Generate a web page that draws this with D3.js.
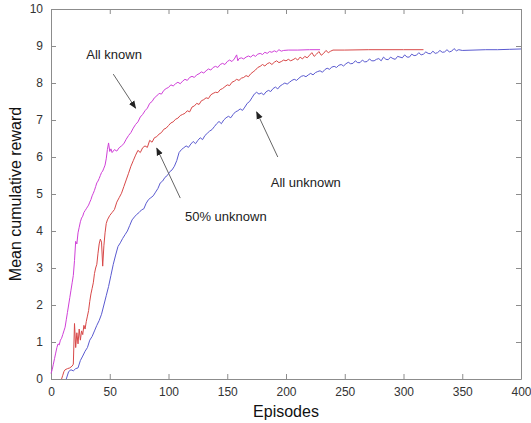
<!DOCTYPE html>
<html><head><meta charset="utf-8">
<script src="https://cdn.jsdelivr.net/npm/d3@7"></script>
<style>body{margin:0;background:#fff}svg{display:block}text{font-family:"Liberation Sans",Arial,sans-serif}</style>
</head><body><svg id="c" width="531" height="423"></svg>
<script>
// ---- data ----
const xTicks = [0,50,100,150,200,250,300,350,400];
const yTicks = [0,1,2,3,4,5,6,7,8,9,10];
const xLabel = "Episodes";
const yLabel = "Mean cumulative reward";

const knownX = [0,1,2,3,4,5,6,7,8,9,10,11,12,13,14,15,16,17,18,19,20,21,22,23,24,25,26,27,28,29,30,31,32,33,34,35,36,37,38,39,40,41,42,43,44,45,46,47,48,49,50,51,52,54,56,58,60,62,64,66,68,70,72,74,76,78,80,82,84,86,88,90,92,94,96,98,100,102,104,106,108,110,112,114,116,118,120,122,124,126,128,130,132,134,136,138,140,142,144,146,148,150,152,154,156,158,159,160,162,164,166,168,170,172,174,176,178,180,182,184,186,188,190,192,194,196,198,202,210,220,229];
const knownY = [0.15,0.25,0.4,0.55,0.7,0.85,0.95,0.92,1.05,1.1,1.2,1.3,1.4,1.6,1.8,2.0,2.2,2.4,2.6,2.8,3.2,3.72,3.65,3.95,4.1,4.25,4.35,4.4,4.5,4.55,4.6,4.65,4.7,4.78,4.85,4.95,5.02,5.1,5.2,5.3,5.35,5.42,5.5,5.58,5.62,5.7,5.78,5.95,6.2,6.38,6.15,6.22,6.12,6.2,6.16,6.25,6.3,6.36,6.48,6.58,6.66,6.78,6.88,6.95,7.08,7.15,7.25,7.32,7.45,7.5,7.6,7.65,7.72,7.7,7.8,7.85,7.88,7.95,7.92,7.98,8.02,7.98,8.05,8.1,8.07,8.15,8.18,8.15,8.22,8.25,8.3,8.27,8.33,8.38,8.35,8.42,8.45,8.42,8.5,8.53,8.5,8.58,8.62,8.58,8.65,8.76,8.6,8.66,8.68,8.65,8.7,8.73,8.7,8.76,8.72,8.78,8.8,8.77,8.83,8.8,8.85,8.83,8.87,8.84,8.9,8.86,8.88,8.89,8.89,8.9,8.9];

const halfX = [9,10,11,12,14,16,18,19,20,21,22,23,24,25,26,27,28,29,30,31,32,33,34,35,36,37,38,39,40,41,42,43,44,45,46,47,48,50,52,54,56,58,60,62,64,66,68,70,72,74,76,78,80,82,84,86,88,90,92,94,96,98,100,102,104,106,108,110,112,114,116,118,120,122,124,126,128,130,132,134,136,138,140,142,144,146,148,150,152,154,156,158,160,162,164,166,168,170,172,174,176,178,180,182,184,186,188,190,192,194,196,198,200,202,204,206,208,210,212,214,216,218,220,222,224,226,228,230,232,234,236,238,240,250,270,300,317];
const halfY = [0.0,0.1,0.2,0.25,0.28,0.3,0.35,0.4,1.5,0.85,1.25,0.95,1.35,1.05,1.3,1.2,1.45,1.35,1.55,1.7,1.85,2.1,2.3,2.45,2.6,2.85,3.0,3.1,3.4,3.65,3.78,3.7,3.05,3.6,3.95,4.2,4.3,4.42,4.5,4.58,4.78,4.9,5.02,5.2,5.38,5.56,5.75,5.9,6.05,6.18,6.12,6.25,6.3,6.26,6.45,6.4,6.52,6.55,6.62,6.66,6.75,6.78,6.85,6.92,6.95,7.02,7.05,7.12,7.15,7.18,7.25,7.22,7.35,7.38,7.45,7.42,7.52,7.55,7.6,7.58,7.68,7.72,7.75,7.74,7.82,7.85,7.9,7.95,7.93,8.02,8.05,8.1,8.07,8.13,8.15,8.2,8.17,8.25,8.3,8.35,8.42,8.45,8.5,8.46,8.52,8.55,8.5,8.56,8.6,8.55,8.58,8.62,8.6,8.64,8.6,8.63,8.67,8.62,8.7,8.65,8.72,8.68,8.75,8.82,8.72,8.78,8.85,8.75,8.8,8.88,8.82,8.86,8.89,8.89,8.9,8.9,8.9];

const unkX = [13,15,17,19,21,23,25,27,29,31,33,35,37,39,41,43,45,47,49,51,53,55,57,59,61,63,65,67,69,71,73,75,77,79,81,83,85,87,89,91,93,95,97,99,101,103,105,107,109,111,113,115,117,119,121,123,125,127,129,131,133,135,137,139,141,143,145,147,149,151,153,155,157,159,161,163,165,167,169,171,173,175,177,179,181,183,185,187,189,191,193,195,197,199,201,203,205,207,209,211,213,215,217,219,221,223,225,227,229,231,233,235,237,239,241,243,245,247,249,251,253,255,257,259,261,263,265,267,269,271,273,275,277,279,281,283,285,287,289,291,293,295,297,299,301,303,305,307,309,311,313,315,317,319,321,323,325,327,329,331,333,335,337,339,341,343,345,347,350,360,370,380,390,400];
const unkY = [0.0,0.2,0.25,0.22,0.28,0.3,0.5,0.62,0.75,0.85,1.05,1.15,1.3,1.45,1.58,1.75,2.0,2.25,2.5,2.8,3.1,3.35,3.58,3.68,3.8,3.9,4.0,4.15,4.3,4.38,4.45,4.5,4.57,4.6,4.75,4.85,4.9,4.95,5.05,5.15,5.3,5.35,5.45,5.5,5.6,5.65,5.75,5.9,6.12,6.2,6.25,6.3,6.26,6.35,6.42,6.36,6.45,6.52,6.47,6.58,6.64,6.7,6.74,6.82,6.9,6.96,6.9,7.0,7.06,7.1,7.06,7.15,7.22,7.25,7.3,7.26,7.35,7.45,7.5,7.6,7.7,7.75,7.7,7.73,7.68,7.76,7.8,7.77,7.85,7.89,7.84,7.92,7.96,8.0,7.97,8.02,8.07,8.1,8.07,8.13,8.18,8.2,8.17,8.22,8.26,8.22,8.28,8.31,8.33,8.29,8.36,8.4,8.37,8.43,8.45,8.42,8.48,8.5,8.46,8.52,8.56,8.52,8.53,8.6,8.55,8.55,8.62,8.57,8.58,8.65,8.6,8.6,8.64,8.66,8.6,8.7,8.64,8.63,8.7,8.66,8.64,8.72,8.7,8.68,8.76,8.7,8.7,8.78,8.74,8.75,8.82,8.76,8.78,8.84,8.8,8.79,8.86,8.8,8.82,8.88,8.83,8.84,8.9,8.84,8.86,8.93,8.87,8.9,8.88,8.89,8.9,8.9,8.91,8.92];

const seriesNames = ["All known","50% unknown","All unknown"];
const seriesColors = ["#d040d8","#d84848","#5a5ad0"];

// annotations (data coordinates): label, text pos, arrow tail, arrow head
const annLabels = ["All known","50% unknown","All unknown"];
const annText = [[30,8.65],[114,4.27],[187,5.19]];
const annTail = [[53,8.24],[110,4.89],[193,6.0]];
const annHead = [[72,7.32],[90,6.24],[175,7.22]];

// ---- drawing ----
const svg = d3.select("#c");
const m = {l:51, r:10, t:9, b:44};
const W = 531, H = 423;
const x = d3.scaleLinear().domain([0,400]).range([m.l, W - m.r]);
const y = d3.scaleLinear().domain([0,10]).range([H - m.b, m.t]);

const axColor = "#8c8c8c";
function styleAxis(g, showText){
  g.selectAll(".domain").attr("stroke", axColor);
  g.selectAll(".tick line").attr("stroke", axColor);
  g.selectAll(".tick text").attr("fill","#333").attr("font-size","12px")
    .attr("font-family",'"Liberation Sans",Arial,sans-serif');
  if(!showText) g.selectAll(".tick text").remove();
}
svg.append("g").attr("transform",`translate(0,${y(0)})`)
  .call(d3.axisBottom(x).tickValues(xTicks).tickSize(-5).tickPadding(8).tickSizeOuter(0))
  .call(g=>styleAxis(g,true));
svg.append("g").attr("transform",`translate(0,${y(10)})`)
  .call(d3.axisTop(x).tickValues(xTicks).tickSize(-5).tickSizeOuter(0))
  .call(g=>styleAxis(g,false));
svg.append("g").attr("transform",`translate(${x(0)},0)`)
  .call(d3.axisLeft(y).tickValues(yTicks).tickSize(-5).tickPadding(8).tickSizeOuter(0))
  .call(g=>styleAxis(g,true));
svg.append("g").attr("transform",`translate(${x(400)},0)`)
  .call(d3.axisRight(y).tickValues(yTicks).tickSize(-5).tickSizeOuter(0))
  .call(g=>styleAxis(g,false));

const line = d3.line().x(d=>x(d[0])).y(d=>y(d[1]));
const series = [
  d3.zip(knownX, knownY),
  d3.zip(halfX, halfY),
  d3.zip(unkX, unkY)
];
[2,1,0].forEach(i=>{
  svg.append("path").datum(series[i]).attr("d", line)
    .attr("fill","none").attr("stroke", seriesColors[i]).attr("stroke-width",1)
    .attr("stroke-linejoin","round");
});

svg.append("defs").append("marker").attr("id","ah").attr("viewBox","0 0 10 10")
  .attr("refX",9).attr("refY",5).attr("markerWidth",8).attr("markerHeight",8)
  .attr("orient","auto").attr("markerUnits","userSpaceOnUse")
  .append("path").attr("d","M0,1 L10,5 L0,9 Z").attr("fill","#222");

annLabels.forEach((t,i)=>{
  svg.append("line")
    .attr("x1",x(annTail[i][0])).attr("y1",y(annTail[i][1]))
    .attr("x2",x(annHead[i][0])).attr("y2",y(annHead[i][1]))
    .attr("stroke","#666").attr("stroke-width",1).attr("marker-end","url(#ah)");
  svg.append("text").attr("x",x(annText[i][0])).attr("y",y(annText[i][1]))
    .attr("font-size","13px").attr("fill","#222").text(t);
});

svg.append("text").attr("x",(x(0)+x(400))/2).attr("y",417).attr("text-anchor","middle")
  .attr("font-size","16px").attr("fill","#111").text(xLabel);
svg.append("text").attr("transform",`translate(21,${(y(0)+y(10))/2}) rotate(-90)`)
  .attr("text-anchor","middle").attr("font-size","16px").attr("fill","#111").text(yLabel);
</script></body></html>
